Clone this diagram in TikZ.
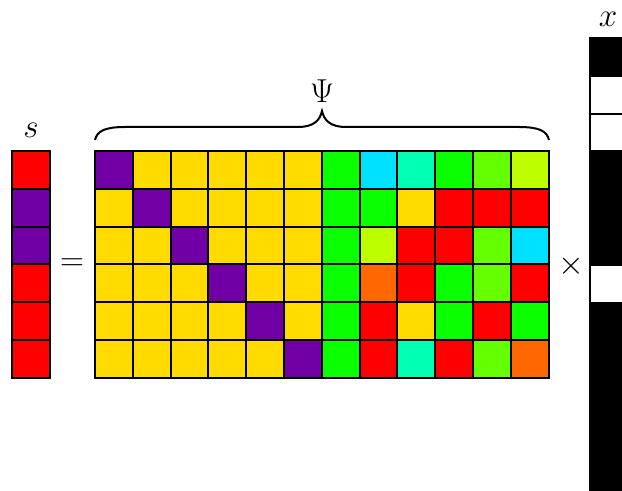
\documentclass[tikz,border=0pt]{standalone}
\usetikzlibrary{positioning}

\definecolor{cP}{RGB}{112,0,165}
\definecolor{cY}{RGB}{255,219,0}
\definecolor{cG}{RGB}{10,255,0}
\definecolor{cC}{RGB}{0,224,255}
\definecolor{cA}{RGB}{0,255,178}
\definecolor{cL}{RGB}{100,255,0}
\definecolor{cYG}{RGB}{190,255,0}
\definecolor{cO}{RGB}{255,104,0}
\definecolor{cR}{RGB}{255,0,0}

\tikzset{
  cell/.style={draw=black, line width=1.4pt},
  lbl/.style={inner sep=0.75pt},
  bigf/.style={font=\fontsize{29}{34}\selectfont},
  smallf/.style={font=\fontsize{24}{28}\selectfont}
}

\begin{document}
\begin{tikzpicture}[x=0.75pt,y=0.75pt,yscale=-1,xscale=1]
        \useasboundingbox (0,0) rectangle (622,491);
        % s
        \foreach \c [count=\j from 0] in {cR,cP,cP,cR,cR,cR}
          \draw [cell, fill=\c] (12,151+37.8*\j) rectangle ++(37.8,37.8);
        % Psi
        \foreach \row [count=\j from 0] in {
            {cP,cY,cY,cY,cY,cY,cG,cC,cA,cG,cL,cYG},
            {cY,cP,cY,cY,cY,cY,cG,cG,cY,cR,cR,cR},
            {cY,cY,cP,cY,cY,cY,cG,cYG,cR,cR,cL,cC},
            {cY,cY,cY,cP,cY,cY,cG,cO,cR,cG,cL,cR},
            {cY,cY,cY,cY,cP,cY,cG,cR,cY,cG,cR,cG},
            {cY,cY,cY,cY,cY,cP,cG,cR,cA,cR,cL,cO}}
          \foreach \c [count=\i from 0] in \row
            \draw [cell, fill=\c] (95+37.8*\i,151+37.8*\j) rectangle ++(37.8,37.8);
        % x
        \foreach \c [count=\j from 0] in {black,white,white,black,black,black,white,black,black,black,black,black}
          \draw [cell, fill=\c] (590,38+37.8*\j) rectangle ++(37.8,37.8);
        % brace
        \draw [line width=1.5pt]  (95,140) .. controls (97,131) and (105,127) .. (125,127) -- (298,127) .. controls (314,127) and (320,120) .. (322,111) .. controls (324,120) and (330,127) .. (346,127) -- (519,127) .. controls (539,127) and (547,131) .. (549,140) ;
        \draw (322,91) node [lbl, bigf] (psi) {$\Psi$};
        \draw (31,130) node [lbl, smallf] (s) {$s$};
        \draw (72,265) node [lbl, bigf] (eq) {$=$};
        \draw (571,266) node [lbl, bigf] (times) {$\times$};
        \draw (608,19) node [lbl, smallf] (x) {$x$};
\end{tikzpicture}
\end{document}
